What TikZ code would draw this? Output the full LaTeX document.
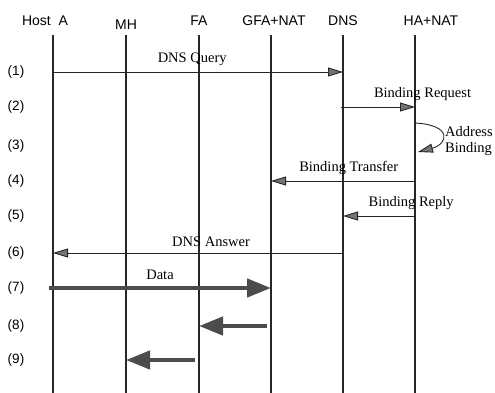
\documentclass[tikz,border=0pt]{standalone}
\usepackage{fontspec}
\setmainfont{Liberation Serif}
\setsansfont{Liberation Sans}
\usetikzlibrary{arrows.meta}

\begin{document}
\begin{tikzpicture}[
  x=1pt, y=-1pt,
  actor/.style={font=\sffamily\fontsize{14}{16}\selectfont, inner sep=0pt},
  rowlbl/.style={font=\sffamily\fontsize{13.5}{16}\selectfont, inner sep=0pt},
  life/.style={line width=1.3pt, black!85},
  msg/.style={line width=0.9pt, black!85,
              -{Triangle[length=15pt, width=9pt, fill=black!55]}},
  bigmsg/.style={line width=4.5pt, black!70,
              -{Triangle[length=24pt, width=18pt, fill=black!70]}},
  lbl/.style={font=\fontsize{14.5}{16}\selectfont, text=black, inner sep=0pt, above=6pt},
  note/.style={font=\fontsize{14.5}{16}\selectfont, inner sep=0pt, align=left},
]
\useasboundingbox (0,0) rectangle (495,393);

% ===== actors and lifelines =====
\node[actor] (hostal) at (45,21) {Host\ \ A};
\node[actor] (mhl)    at (126,25) {MH};
\node[actor] (fal)    at (199,21) {FA};
\node[actor] (gfal)   at (274,21) {GFA+NAT};
\node[actor] (dnsl)   at (343,21) {DNS};
\node[actor] (hal)    at (431,21) {HA+NAT};

\coordinate (hosta) at (53,35);
\coordinate (mh)    at (126,35);
\coordinate (fa)    at (199,35);
\coordinate (gfa)   at (271,35);
\coordinate (dns)   at (343,35);
\coordinate (ha)    at (415,35);
\coordinate (bot)   at (0,393);

\foreach \l in {hosta,mh,fa,gfa,dns,ha}
  \draw[life] (\l) -- (\l |- bot);

% ===== step numbers =====
\node[rowlbl] (r1) at (16,72)  {(1)};
\node[rowlbl] (r2) at (16,107) {(2)};
\node[rowlbl] (r3) at (16,146) {(3)};
\node[rowlbl] (r4) at (16,181) {(4)};
\node[rowlbl] (r5) at (16,216) {(5)};
\node[rowlbl] (r6) at (16,253) {(6)};
\node[rowlbl] (r7) at (16,288) {(7)};
\node[rowlbl] (r8) at (16,326) {(8)};
\node[rowlbl] (r9) at (16,360) {(9)};

% ===== signalling =====
\draw[msg] (hosta |- r1) -- (dns |- r1) node[lbl, pos=0.48] {DNS Query};
\draw[msg] ([xshift=-2pt]dns |- r2) -- (ha |- r2)
  node[lbl, pos=0.44, anchor=south west] {Binding Request};
\draw[msg] ([yshift=23pt]ha |- r3) .. controls +(38,2) and +(30,-8) .. ([xshift=3pt,yshift=-6pt]ha |- r3);
\node[note, anchor=west] (addr) at (445,141) {Address\\Binding};
\draw[msg] (ha |- r4) -- (gfa |- r4) node[lbl, pos=0.46] {Binding Transfer};
\draw[msg] (ha |- r5) -- (dns |- r5)
  node[lbl, pos=0.65, anchor=south west] {Binding Reply};
\draw[msg] (dns |- r6) -- (hosta |- r6) node[lbl, pos=0.455] {DNS Answer};

% ===== data path =====
\draw[bigmsg] ([xshift=-4pt]hosta |- r7) -- (gfa |- r7) node[lbl, pos=0.5] {Data};
\draw[bigmsg] ([xshift=-4pt]gfa |- r8) -- (fa |- r8);
\draw[bigmsg] ([xshift=-4pt]fa |- r9) -- (mh |- r9);
\end{tikzpicture}
\end{document}
